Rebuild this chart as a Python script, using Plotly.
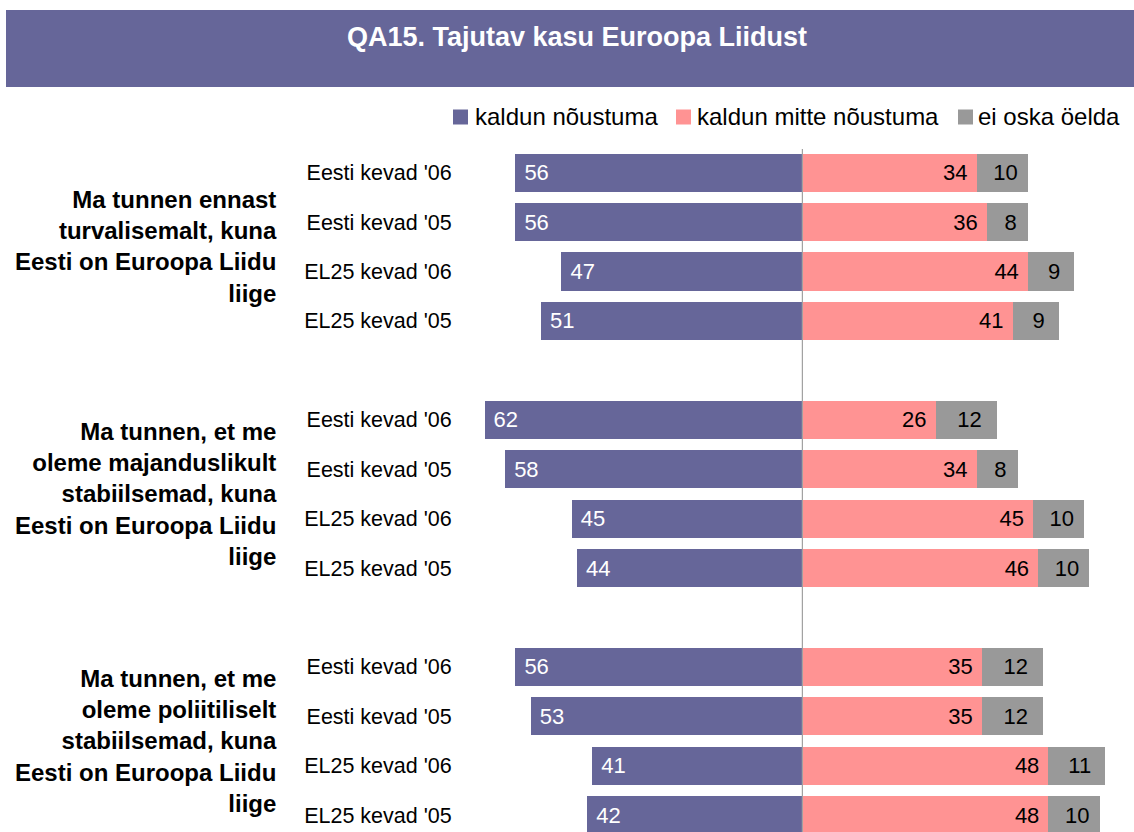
import plotly.graph_objects as go

# ---------------- data ----------------
groups = [
    "Ma tunnen ennast<br>turvalisemalt, kuna<br>Eesti on Euroopa Liidu<br>liige",
    "Ma tunnen, et me<br>oleme majanduslikult<br>stabiilsemad, kuna<br>Eesti on Euroopa Liidu<br>liige",
    "Ma tunnen, et me<br>oleme poliitiliselt<br>stabiilsemad, kuna<br>Eesti on Euroopa Liidu<br>liige",
]
rows = ["Eesti kevad '06", "Eesti kevad '05", "EL25 kevad '06", "EL25 kevad '05"]

agree = [56, 56, 47, 51, 62, 58, 45, 44, 56, 53, 41, 42]
disagree = [34, 36, 44, 41, 26, 34, 45, 46, 35, 35, 48, 48]
dontknow = [10, 8, 9, 9, 12, 8, 10, 10, 12, 12, 11, 10]

series_names = ["kaldun nõustuma", "kaldun mitte nõustuma", "ei oska öelda"]
colors = ["#666699", "#FF9393", "#999999"]
title = "QA15. Tajutav kasu Euroopa Liidust"

# ---------------- layout geometry ----------------
W, H = 1134, 832
ML, MR, MT, MB = 464, 24, 143, 0
PW, PH = W - ML - MR, H - MT - MB
FONT = "Liberation Sans, Arial, sans-serif"


def px_x(p):
    return (p - ML) / PW


def px_y(p):
    return (H - MB - p) / PH


# positions of each bar row (group offset 5 slots)
ypos = []
labels = []
for g in range(len(groups)):
    for r in range(len(rows)):
        ypos.append(g * 5 + r)
        labels.append(rows[r])

fig = go.Figure()
fig.add_trace(go.Bar(
    y=ypos, x=[-v for v in agree], base=0, orientation="h",
    marker=dict(color=colors[0], line=dict(width=0)), width=0.77,
    text=["\u00a0" + str(v) for v in agree], textposition="inside",
    insidetextanchor="end", textangle=0,
    textfont=dict(color="white", size=22, family=FONT),
    name=series_names[0], showlegend=False,
))
fig.add_trace(go.Bar(
    y=ypos, x=disagree, base=0, orientation="h",
    marker=dict(color=colors[1], line=dict(width=0)), width=0.77,
    text=[str(v) + "\u00a0" for v in disagree], textposition="inside",
    insidetextanchor="end", textangle=0,
    textfont=dict(color="black", size=22, family=FONT),
    name=series_names[1], showlegend=False,
))
fig.add_trace(go.Bar(
    y=ypos, x=dontknow, base=disagree, orientation="h",
    marker=dict(color=colors[2], line=dict(width=0)), width=0.77,
    text=["\u00a0" + str(v) for v in dontknow], textposition="inside",
    insidetextanchor="middle", textangle=0,
    textfont=dict(color="black", size=22, family=FONT),
    name=series_names[2], showlegend=False,
))

shapes = []
annotations = []

# title bar
shapes.append(dict(type="rect", xref="paper", yref="paper",
                   x0=px_x(6), x1=px_x(1134), y0=px_y(87), y1=px_y(10),
                   fillcolor="#666699", line=dict(width=0), layer="below"))
annotations.append(dict(xref="paper", yref="paper", x=px_x(577), y=px_y(37),
                        text="<b>" + title + "</b>", showarrow=False,
                        xanchor="center", yanchor="middle",
                        font=dict(color="white", size=27, family=FONT)))

# manual legend
leg_sq = [453, 676, 958]
leg_tx = [475, 697, 978]
for i in range(3):
    shapes.append(dict(type="rect", xref="paper", yref="paper",
                       x0=px_x(leg_sq[i]), x1=px_x(leg_sq[i] + 15),
                       y0=px_y(124.5), y1=px_y(109.5),
                       fillcolor=colors[i], line=dict(width=0)))
    annotations.append(dict(xref="paper", yref="paper", x=px_x(leg_tx[i] - 2), y=px_y(116),
                            text=series_names[i], showarrow=False,
                            xanchor="left", yanchor="middle",
                            font=dict(color="black", size=24, family=FONT)))

# group labels
for g, txt in enumerate(groups):
    annotations.append(dict(xref="paper", yref="y", x=px_x(279), y=g * 5 + 1.5,
                            text="<b>" + txt + "</b>", showarrow=False,
                            xanchor="right", yanchor="middle", align="right",
                            font=dict(color="black", size=24, family=FONT)))

# vertical zero line
shapes.append(dict(type="line", xref="x", yref="y", x0=0, x1=0, y0=-0.48, y1=13.34,
                   line=dict(color="#A0A0A0", width=1.2), layer="above"))

fig.update_layout(
    width=W, height=H,
    margin=dict(l=ML, r=MR, t=MT, b=MB, autoexpand=False),
    paper_bgcolor="white", plot_bgcolor="white",
    barmode="overlay", bargap=0,
    shapes=shapes, annotations=annotations,
    uniformtext=dict(mode=False),
    xaxis=dict(range=[-66, 60], visible=False, showgrid=False, zeroline=False, fixedrange=True),
    yaxis=dict(range=[13.34, -0.6], tickvals=ypos, ticktext=labels,
               showgrid=False, zeroline=False, showline=False,
               ticks="outside", ticklen=7, tickcolor="rgba(0,0,0,0)",
               tickfont=dict(size=21.5, color="black", family=FONT), fixedrange=True),
    font=dict(family=FONT),
    hovermode=False,
)

fig.write_html(
    "out.html",
    config={"displayModeBar": False, "staticPlot": True},
    post_script="document.body.style.margin='0';document.body.style.padding='0';document.body.style.overflow='hidden';",
)
